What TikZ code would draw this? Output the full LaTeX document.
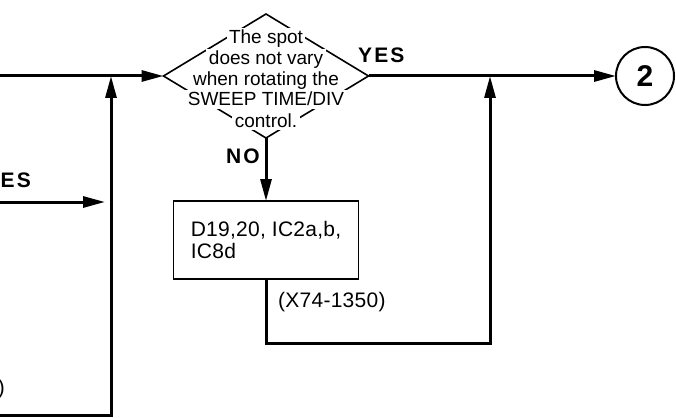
\documentclass[tikz,border=0pt]{standalone}
\usepackage{fontspec}
\setmainfont{Liberation Sans}
\newfontfamily\boxfont[LetterSpace=1.2]{Liberation Sans}
\newfontfamily\labfont[LetterSpace=10]{Liberation Sans}
\usepackage{tikz}
\usetikzlibrary{positioning,shapes.geometric,arrows.meta}

\begin{document}
\begin{tikzpicture}[x=1pt,y=-1pt,
  wire/.style = {line width=3pt},
  flow/.style = {wire, -{Triangle[length=22pt,width=11pt]}},
  decide/.style = {diamond, draw, line width=1.6pt, minimum width=205pt, minimum height=124pt, inner sep=0pt, outer sep=0pt},
  mybox/.style = {draw, line width=1.6pt, minimum width=185pt, minimum height=78pt, align=left, outer sep=0pt, font=\boxfont\fontsize{21}{22}\selectfont},
  dtext/.style = {fill=white, inner sep=2.5pt, anchor=base, font=\fontsize{19}{20}\selectfont},
  yesno/.style = {inner sep=0pt, font=\labfont\bfseries\fontsize{21}{21}\selectfont},
  note/.style = {inner sep=0pt, font=\boxfont\fontsize{21}{22}\selectfont}]
\useasboundingbox (0,0) rectangle (676,417);
\clip (0,0) rectangle (676,417);

% decision and its text
\node[decide] (chk) at (266,76) {};
\foreach \txt/\yb [count=\i] in {{The spot}/44, {does not vary}/65, {when rotating the}/85, {SWEEP TIME/DIV}/106, {control.}/127}
  \node[dtext] (t\i) at (266,\yb) {\txt};

\node[mybox] (fix) at (266,240) {D19,20, IC2a,b,\\IC8d};
\node[circle, draw, line width=2pt, minimum size=58pt, inner sep=0pt, outer sep=0pt, font=\bfseries\fontsize{30}{30}\selectfont] (go) at (645,76) {2};

% free ends
\coordinate (lin) at (-5,76);
\coordinate (j1) at (111,76);
\coordinate (bl) at (-5,415);
\coordinate (bc) at (111,415);
\coordinate (lin2) at (-5,202);
\coordinate (le) at (105,202);
\coordinate (c2) at (490,343);
\coordinate (j2) at (490,76);

\draw[flow] (lin) -- (chk.west);
\draw[flow] (bl) -- (bc) -- (j1);
\draw[flow] (lin2) -- (le);
\draw[flow] (chk.east) -- (go.west);
\draw[flow] (chk.south) -- (fix.north);
\draw[flow] (fix.south) |- (c2) -- (j2);

% labels
\node[yesno, anchor=base west] (yes) at (358,63) {YES};
\node[yesno, anchor=base east] (no) at (260,163) {NO};
\node[yesno, anchor=base east] (yes2) at (31,187) {YES};
\node[note, anchor=base west] (ref) at (278,307) {(X74-1350)};
\node[note, anchor=base east] (ref2) at (5,394) {)};
\end{tikzpicture}
\end{document}
